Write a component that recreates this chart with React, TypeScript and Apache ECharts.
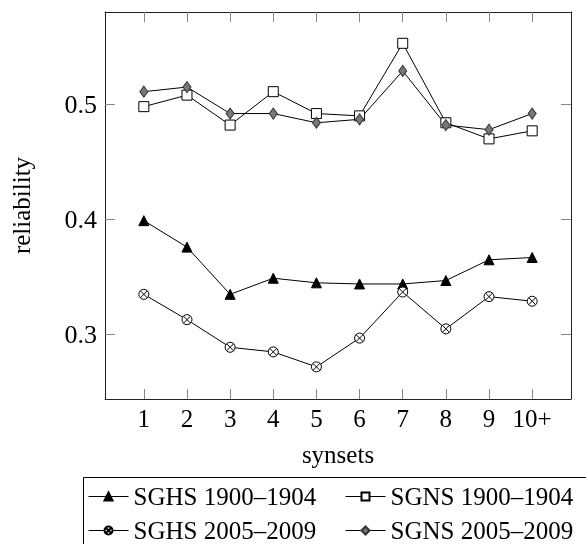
import React, { useEffect, useRef } from 'react';
import * as echarts from 'echarts';

const categories = ['1', '2', '3', '4', '5', '6', '7', '8', '9', '10+'];
const sghs1900 = [0.399, 0.376, 0.335, 0.349, 0.345, 0.344, 0.344, 0.347, 0.365, 0.367];
const sgns1900 = [0.498, 0.508, 0.482, 0.511, 0.492, 0.490, 0.553, 0.484, 0.470, 0.477];
const sghs2005 = [0.335, 0.313, 0.289, 0.285, 0.272, 0.297, 0.337, 0.305, 0.333, 0.329];
const sgns2005 = [0.511, 0.515, 0.492, 0.492, 0.484, 0.487, 0.529, 0.482, 0.478, 0.492];
const yTicks = [0.3, 0.4, 0.5];
const seriesNames = ['SGHS 1900–1904', 'SGNS 1900–1904', 'SGHS 2005–2009', 'SGNS 2005–2009'];

const FONT = 'Liberation Serif';
const OTIMES =
  'path://M10,0A10,10,0,1,1,-10,0A10,10,0,1,1,10,0Z M7.07,7.07L-7.07,-7.07 M-7.07,7.07L7.07,-7.07';

export default function App() {
  const ref = useRef<HTMLDivElement>(null);
  useEffect(() => {
    if (!ref.current) return;
    const chart = echarts.init(ref.current, undefined, { renderer: 'svg' });
    const xMin = 0.1;
    const xMax = 10.9;
    const yMin = 0.2441;
    const yMax = 0.5802;
    const xTickPos = categories.map((_, i) => i + 1);
    const axisLineStyle = { color: '#222', width: 1 };
    const tickStyle = { color: '#888', width: 1 };
    const nameStyle = { fontSize: 25, color: '#000', fontFamily: FONT };

    const mk = (name: string, vals: number[], symbol: string, size: any, fill: string, border: string) => ({
      name,
      type: 'line',
      xAxisIndex: 0,
      yAxisIndex: 0,
      data: vals.map((v, i) => [i + 1, v]),
      symbol,
      symbolSize: size,
      showSymbol: true,
      lineStyle: { color: '#000', width: 1 },
      itemStyle: { color: fill, borderColor: border, borderWidth: 1, opacity: 1 },
      emphasis: { disabled: true },
    });

    const legendCommon = {
      orient: 'vertical',
      top: 484,
      height: 80,
      padding: 0,
      itemWidth: 40,
      itemHeight: 10,
      itemGap: 9,
      selectedMode: false,
      lineStyle: { width: 1 },
      textStyle: { fontSize: 25, color: '#000', fontFamily: FONT, lineHeight: 25 },
    };

    chart.setOption({
      animation: false,
      textStyle: { fontFamily: FONT },
      grid: { left: 105, right: 15, top: 12, bottom: 145 },
      xAxis: [
        {
          type: 'value',
          position: 'bottom',
          min: xMin,
          max: xMax,
          axisLine: { show: true, onZero: false, lineStyle: axisLineStyle },
          axisTick: { show: true, inside: true, length: 10, lineStyle: tickStyle, customValues: xTickPos },
          axisLabel: {
            customValues: xTickPos,
            formatter: (v: number) => categories[Math.round(v) - 1] ?? '',
            fontSize: 25,
            color: '#000',
            margin: 7,
            fontFamily: FONT,
          },
          splitLine: { show: false },
          name: 'synsets',
          nameLocation: 'middle',
          nameGap: 43,
          nameTextStyle: nameStyle,
        },
        {
          type: 'value',
          position: 'top',
          min: xMin,
          max: xMax,
          axisLine: { show: true, onZero: false, lineStyle: axisLineStyle },
          axisTick: { show: true, inside: true, length: 10, lineStyle: tickStyle, customValues: xTickPos },
          axisLabel: { show: false },
          splitLine: { show: false },
        },
      ],
      yAxis: [
        {
          type: 'value',
          position: 'left',
          min: yMin,
          max: yMax,
          axisLine: { show: true, onZero: false, lineStyle: axisLineStyle },
          axisTick: { show: true, inside: true, length: 10, lineStyle: tickStyle, customValues: yTicks },
          axisLabel: {
            customValues: yTicks,
            formatter: (v: number) => v.toFixed(1),
            fontSize: 26,
            color: '#000',
            margin: 8,
            fontFamily: FONT,
          },
          splitLine: { show: false },
          name: 'reliability',
          nameLocation: 'middle',
          nameGap: 71,
          nameTextStyle: nameStyle,
        },
        {
          type: 'value',
          position: 'right',
          min: yMin,
          max: yMax,
          axisLine: { show: true, onZero: false, lineStyle: axisLineStyle },
          axisTick: { show: true, inside: true, length: 10, lineStyle: tickStyle, customValues: yTicks },
          axisLabel: { show: false },
          splitLine: { show: false },
        },
      ],
      legend: [
        { ...legendCommon, left: 88, data: [seriesNames[0], seriesNames[2]] },
        { ...legendCommon, left: 345, data: [seriesNames[1], seriesNames[3]] },
      ],
      graphic: [
        {
          type: 'rect',
          shape: { x: 83.5, y: 477.5, width: 600, height: 100 },
          style: { fill: 'none', stroke: '#000', lineWidth: 1 },
          silent: true,
        },
      ],
      series: [
        mk(seriesNames[0], sghs1900, 'triangle', 10, '#000', '#000'),
        mk(seriesNames[1], sgns1900, 'rect', 10, '#fff', '#000'),
        mk(seriesNames[2], sghs2005, OTIMES, 10, '#fff', '#000'),
        mk(seriesNames[3], sgns2005, 'diamond', [8, 11], '#777', '#333'),
      ],
    });
    return () => chart.dispose();
  }, []);
  return (
    <div
      ref={ref}
      style={{ position: 'fixed', left: 0, top: 0, width: 586, height: 544 }}
    />
  );
}
